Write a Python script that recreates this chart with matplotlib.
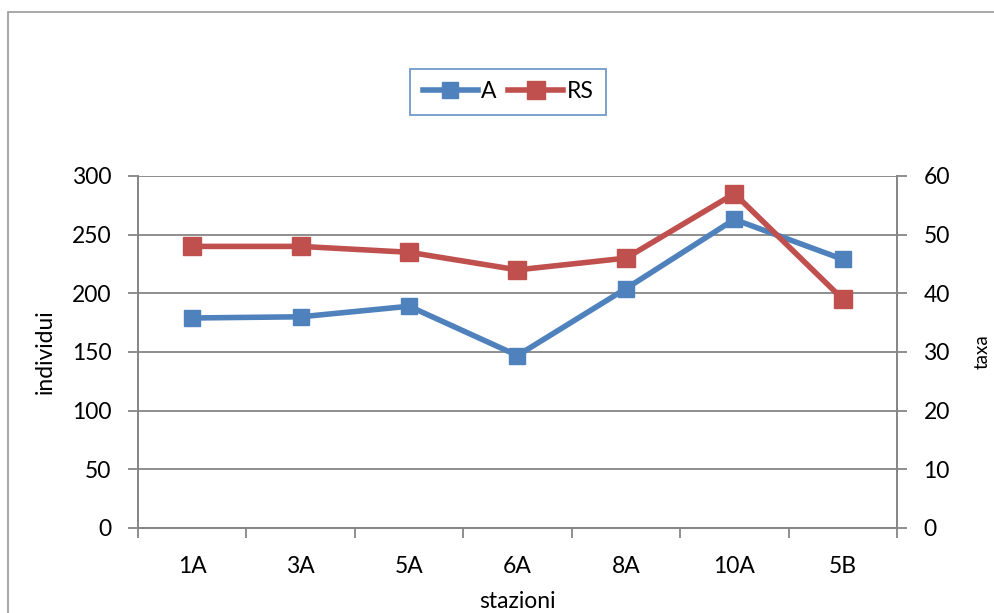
import matplotlib
matplotlib.use('Agg')
import matplotlib.pyplot as plt
from matplotlib.patches import Rectangle

stazioni = ['1A', '3A', '5A', '6A', '8A', '10A', '5B']
individui_A = [179, 180, 189, 147, 204, 263, 229]
taxa_RS = [48, 48, 47, 44, 46, 57, 39]

blue = '#4F81BD'
red = '#C0504D'
axis_grey = '#868686'

plt.rcParams['font.family'] = ['Lato', 'DejaVu Sans']

W, H = 995, 613
fig = plt.figure(figsize=(W / 100, H / 100), dpi=100)

# chart frame, its right and bottom sides run off the image
fig.add_artist(Rectangle((8 / W, -0.1), 1.2, 1.1 - 12 / H,
                         transform=fig.transFigure, fill=False,
                         edgecolor='#9a9a9a', linewidth=1.2))

ax = fig.add_axes([138 / W, 1 - 528 / H, (897 - 138) / W, (528 - 176) / H])
ax2 = ax.twinx()

x = list(range(len(stazioni)))
lA, = ax.plot(x, individui_A, color=blue, linewidth=4.0, marker='s',
              markersize=11, label='A', zorder=3)
lRS, = ax2.plot(x, taxa_RS, color=red, linewidth=4.0, marker='s',
                markersize=13.5, label='RS', zorder=3)

ax.set_xlim(-0.5, len(stazioni) - 0.5)
ax.set_ylim(0, 300)
ax.set_yticks(range(0, 301, 50))
ax2.set_ylim(0, 60)
ax2.set_yticks(range(0, 61, 10))

# category labels centred, tick marks on the boundaries
ax.set_xticks([i - 0.5 for i in range(len(stazioni) + 1)])
ax.set_xticklabels([])
ax.set_xticks(x, minor=True)
ax.set_xticklabels(stazioni, minor=True)
ax.tick_params(axis='x', which='minor', length=0, pad=20, labelsize=16.5)
ax.tick_params(axis='x', which='major', length=7, color=axis_grey, width=1.3)

ax.grid(axis='y', color=axis_grey, linewidth=1.3)
ax.set_axisbelow(True)

for a in (ax, ax2):
    a.spines['top'].set_visible(False)
    for side in ('left', 'right', 'bottom'):
        a.spines[side].set_color(axis_grey)
        a.spines[side].set_linewidth(1.3)
    a.tick_params(axis='y', length=7, color=axis_grey, width=1.3,
                  labelsize=16.5, pad=12)

ax.set_ylabel('individui', fontsize=16.5)
ax.yaxis.set_label_coords(-0.108, 0.5)
ax2.set_ylabel('taxa', fontsize=13.5, rotation=90)
ax2.yaxis.set_label_coords(1.101, 0.5)
ax.set_xlabel('stazioni', fontsize=16.5)
ax.xaxis.set_label_coords(0.5, -0.178)

leg = fig.legend(handles=[lA, lRS], loc='center',
                 bbox_to_anchor=(508 / W, 1 - 92 / H), ncol=2,
                 frameon=True, fancybox=False, fontsize=16.5,
                 handlelength=2.4, handletextpad=0.15, columnspacing=0.5,
                 borderpad=0.55)
leg.get_frame().set_edgecolor(blue)
leg.get_frame().set_linewidth(1.3)

fig.savefig('out.png', dpi=100)
